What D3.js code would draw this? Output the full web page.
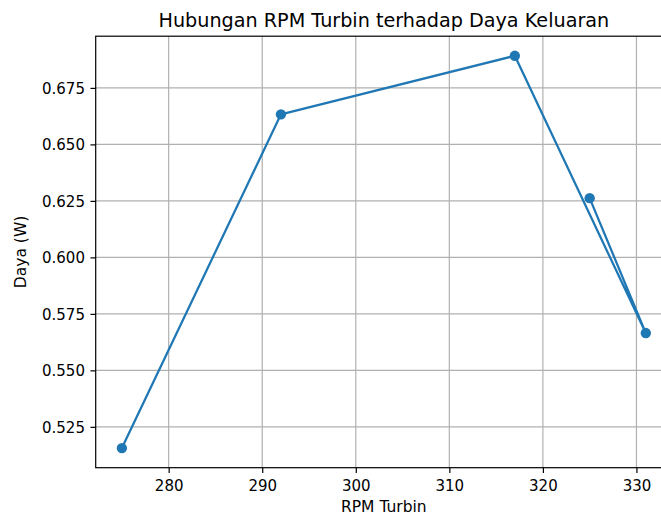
<!DOCTYPE html>
<html>
<head>
<meta charset="utf-8">
<script src="https://cdn.jsdelivr.net/npm/d3@7"></script>
<style>
    body { margin: 0; background: #fff; overflow: hidden; }
    #chart text { font-family: "DejaVu Sans", sans-serif; fill: #000; }
</style>
</head>
<body>
<div id="chart"></div>
<script>
// data
var rpm  = [275, 292, 317, 331, 325];
var daya = [0.5156, 0.6633, 0.6892, 0.5665, 0.6262];

var xTicks = [280, 290, 300, 310, 320, 330];
var yTicks = [0.525, 0.550, 0.575, 0.600, 0.625, 0.650, 0.675];

var title = "Hubungan RPM Turbin terhadap Daya Keluaran";
var xLabel = "RPM Turbin";
var yLabel = "Daya (W)";

var width = 661, height = 516;
// axes box (right edge is past the picture, as in the original crop)
var box = { left: 95.7, right: 672, top: 36.2, bottom: 467.7 };

var svg = d3.select("#chart").append("svg")
    .attr("width", width)
    .attr("height", height);

// matplotlib style 5% margins
var pad = function (ext) {
    var m = (ext[1] - ext[0]) * 0.05;
    return [ext[0] - m, ext[1] + m];
};

var x = d3.scaleLinear().domain(pad(d3.extent(rpm))).range([box.left, box.right]);
var y = d3.scaleLinear().domain(pad(d3.extent(daya))).range([box.bottom, box.top]);

// grid
var grid = svg.append("g");
grid.selectAll(".gx").data(xTicks).enter().append("line")
    .attr("x1", function (d) { return x(d); })
    .attr("x2", function (d) { return x(d); })
    .attr("y1", box.top).attr("y2", box.bottom)
    .attr("stroke", "#b0b0b0").attr("stroke-width", 1.2);
grid.selectAll(".gy").data(yTicks).enter().append("line")
    .attr("y1", function (d) { return y(d); })
    .attr("y2", function (d) { return y(d); })
    .attr("x1", box.left).attr("x2", box.right)
    .attr("stroke", "#b0b0b0").attr("stroke-width", 1.2);

// axes
var xAxis = d3.axisBottom(x).tickValues(xTicks).tickSize(5.25).tickPadding(5).tickFormat(d3.format("d"));
var yAxis = d3.axisLeft(y).tickValues(yTicks).tickSize(5.25).tickPadding(5.5).tickFormat(d3.format(".3f"));

var gx = svg.append("g").attr("transform", "translate(0," + box.bottom + ")").call(xAxis);
var gy = svg.append("g").attr("transform", "translate(" + box.left + ",0)").call(yAxis);

[gx, gy].forEach(function (g) {
    g.select(".domain").remove();
    g.selectAll(".tick line").attr("stroke", "#000").attr("stroke-width", 1.2);
    g.selectAll(".tick text")
        .attr("font-size", 15)
        .attr("font-family", "DejaVu Sans")
        .attr("fill", "#000");
});
gx.selectAll(".tick text").attr("dy", null).attr("y", 23.8);
gy.selectAll(".tick text").attr("dy", "0.36em");

// frame
svg.append("rect")
    .attr("x", box.left).attr("y", box.top)
    .attr("width", box.right - box.left).attr("height", box.bottom - box.top)
    .attr("fill", "none").attr("stroke", "#000").attr("stroke-width", 1.2);

// line + markers
var pts = rpm.map(function (d, i) { return [d, daya[i]]; });

svg.append("path")
    .datum(pts)
    .attr("fill", "none")
    .attr("stroke", "#1f77b4")
    .attr("stroke-width", 2.25)
    .attr("stroke-linejoin", "round")
    .attr("stroke-linecap", "square")
    .attr("d", d3.line()
        .x(function (d) { return x(d[0]); })
        .y(function (d) { return y(d[1]); }));

svg.selectAll(".pt").data(pts).enter().append("circle")
    .attr("cx", function (d) { return x(d[0]); })
    .attr("cy", function (d) { return y(d[1]); })
    .attr("r", 5.2)
    .attr("fill", "#1f77b4");

// texts
svg.append("text")
    .attr("x", (box.left + box.right) / 2).attr("y", 26.7)
    .attr("text-anchor", "middle")
    .attr("font-size", 19.2)
    .text(title);

svg.append("text")
    .attr("x", (box.left + box.right) / 2).attr("y", 511.6)
    .attr("text-anchor", "middle")
    .attr("font-size", 15.5)
    .text(xLabel);

svg.append("text")
    .attr("transform", "translate(25.8," + (box.top + box.bottom) / 2 + ") rotate(-90)")
    .attr("text-anchor", "middle")
    .attr("font-size", 15.5)
    .text(yLabel);
</script>
</body>
</html>
